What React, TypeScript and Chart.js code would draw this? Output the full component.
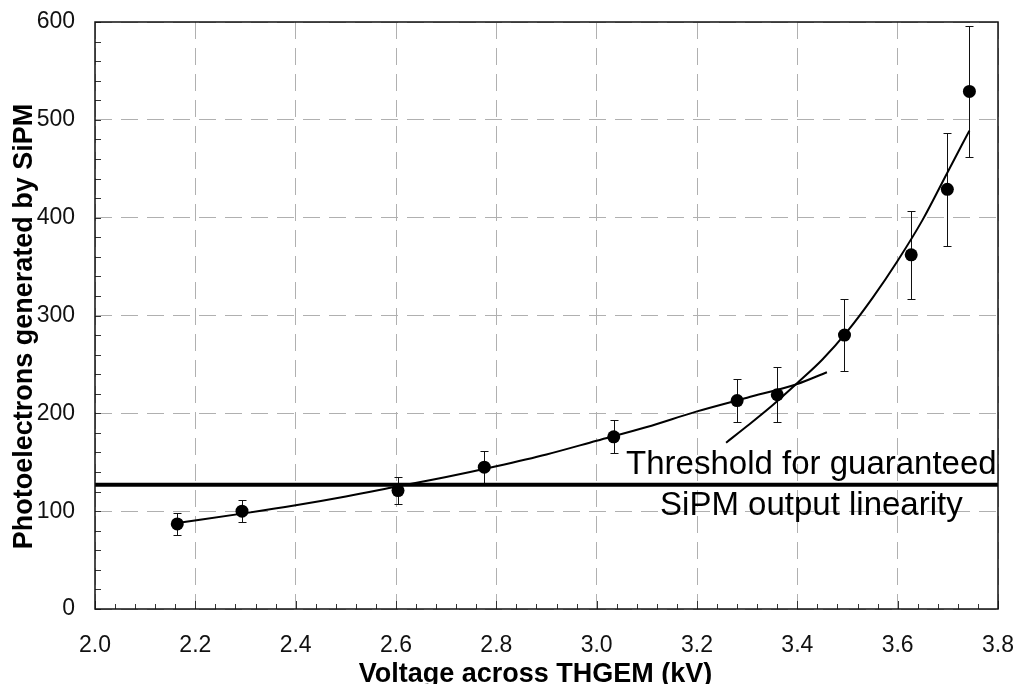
import React, { useEffect, useRef } from "react";
import { Chart, registerables } from "chart.js";

Chart.register(...registerables);

// ---- data ----
const voltage = [2.164, 2.293, 2.604, 2.776, 3.034, 3.28, 3.36, 3.494, 3.627, 3.699, 3.743];
const photoelectrons = [87, 100, 121, 145, 176, 213, 219, 280, 362, 429, 529];
const errors = [11, 11, 14, 17, 17, 22, 28, 37, 45, 58, 67];

const fitLowX = [2.164, 2.3, 2.4, 2.5, 2.6, 2.7, 2.8, 2.9, 3.0, 3.1, 3.2, 3.3, 3.4, 3.459];
const fitLowY = [88, 98, 106, 115, 125, 135, 146, 158, 172, 186, 202, 216, 230, 242];

const fitHighX = [3.258, 3.3, 3.35, 3.4, 3.45, 3.5, 3.55, 3.6, 3.65, 3.7, 3.743];
const fitHighY = [170, 187, 208, 231, 255, 284, 318, 356, 398, 447, 489];

const thresholdX = [2.0, 3.8];
const thresholdY = [127, 127];

const xTicksRange = [2.0, 3.8];
const yTicksRange = [0, 600];
const thresholdLabel = ["Threshold for guaranteed", "SiPM output linearity"];
const xTitle = "Voltage across THGEM (kV)";
const yTitle = "Photoelectrons generated by SiPM";

const FONT = "'Liberation Sans', Arial, sans-serif";

const toXY = (xs: number[], ys: number[]) => xs.map((x, i) => ({ x, y: ys[i] }));

const decorPlugin = {
  id: "decor",
  beforeDatasetsDraw(chart: any) {
    const { ctx } = chart;
    const xs = chart.scales.x;
    const ys = chart.scales.y;
    ctx.save();
    ctx.strokeStyle = "#111";
    ctx.lineWidth = 1;
    for (let i = 0; i < voltage.length; i++) {
      const px = Math.round(xs.getPixelForValue(voltage[i])) + 0.5;
      const top = Math.round(ys.getPixelForValue(photoelectrons[i] + errors[i])) + 0.5;
      const bot = Math.round(ys.getPixelForValue(photoelectrons[i] - errors[i])) + 0.5;
      ctx.beginPath();
      ctx.moveTo(px, top);
      ctx.lineTo(px, bot);
      ctx.moveTo(px - 4, top);
      ctx.lineTo(px + 4, top);
      ctx.moveTo(px - 4, bot);
      ctx.lineTo(px + 4, bot);
      ctx.stroke();
    }
    ctx.restore();
  },
  afterDraw(chart: any) {
    const { ctx, chartArea: a } = chart;
    const xs = chart.scales.x;
    const ys = chart.scales.y;
    ctx.save();
    // minor ticks
    ctx.strokeStyle = "#333";
    ctx.lineWidth = 1;
    ctx.beginPath();
    for (let v = yTicksRange[0]; v <= yTicksRange[1]; v += 20) {
      const py = Math.round(ys.getPixelForValue(v)) + 0.5;
      ctx.moveTo(a.left, py);
      ctx.lineTo(a.left + 6, py);
    }
    for (let k = 0; k <= 45; k++) {
      const v = xTicksRange[0] + k * 0.04;
      const px = Math.round(xs.getPixelForValue(v)) + 0.5;
      ctx.moveTo(px, a.bottom);
      ctx.lineTo(px, a.bottom - (k % 5 === 0 ? 8 : 5));
    }
    ctx.stroke();
    // frame
    ctx.strokeStyle = "#111";
    ctx.lineWidth = 1.5;
    ctx.strokeRect(a.left, a.top, a.right - a.left, a.bottom - a.top);

    // threshold annotation
    const ty = ys.getPixelForValue(thresholdY[0]);
    const tx = xs.getPixelForValue(3.428);
    ctx.fillStyle = "#000";
    ctx.font = `33px ${FONT}`;
    ctx.textAlign = "center";
    ctx.textBaseline = "alphabetic";
    ctx.fillText(thresholdLabel[0], tx, ty - 11);
    ctx.fillText(thresholdLabel[1], tx, ty + 30);

    // axis titles
    ctx.font = `bold 27px ${FONT}`;
    ctx.fillText(xTitle, (a.left + a.right) / 2 - 11, 682);
    ctx.translate(32, (a.top + a.bottom) / 2 + 11);
    ctx.rotate(-Math.PI / 2);
    ctx.fillText(yTitle, 0, 0);
    ctx.restore();
  },
};

export default function App() {
  const ref = useRef<HTMLCanvasElement | null>(null);

  useEffect(() => {
    document.body.style.margin = "0";
    const canvas = ref.current;
    if (!canvas) return;
    const chart = new Chart(canvas, {
      type: "scatter",
      data: {
        datasets: [
          {
            label: "threshold",
            data: toXY(thresholdX, thresholdY),
            showLine: true,
            borderColor: "#000",
            borderWidth: 4,
            pointRadius: 0,
          },
          {
            label: "fit low",
            data: toXY(fitLowX, fitLowY),
            showLine: true,
            borderColor: "#000",
            borderWidth: 2,
            pointRadius: 0,
            cubicInterpolationMode: "monotone",
          },
          {
            label: "fit high",
            data: toXY(fitHighX, fitHighY),
            showLine: true,
            borderColor: "#000",
            borderWidth: 2,
            pointRadius: 0,
            cubicInterpolationMode: "monotone",
          },
          {
            label: "data",
            data: toXY(voltage, photoelectrons),
            showLine: false,
            pointRadius: 6.5,
            pointBackgroundColor: "#000",
            pointBorderColor: "#000",
            pointBorderWidth: 0,
          },
        ],
      },
      options: {
        responsive: false,
        animation: false,
        events: [],
        layout: { padding: { top: 22, right: 18, left: 0, bottom: 0 } },
        plugins: {
          legend: { display: false },
          tooltip: { enabled: false },
        },
        scales: {
          x: {
            type: "linear",
            min: xTicksRange[0],
            max: xTicksRange[1],
            afterFit: (s: any) => {
              s.height = 75;
              s.paddingLeft = 0;
              s.paddingRight = 0;
            },
            ticks: {
              stepSize: 0.2,
              padding: 23,
              color: "#111",
              font: { family: FONT, size: 23 },
              callback: (v: any) => Number(v).toFixed(1),
            },
            grid: { color: "#b0b0b0", lineWidth: 1, drawTicks: false },
            border: { display: false, dash: [17, 9] },
          },
          y: {
            type: "linear",
            min: yTicksRange[0],
            max: yTicksRange[1],
            afterFit: (s: any) => {
              s.width = 95;
              s.paddingTop = 0;
              s.paddingBottom = 0;
            },
            ticks: {
              stepSize: 100,
              padding: 20,
              color: "#111",
              font: { family: FONT, size: 23 },
            },
            grid: { color: "#b0b0b0", lineWidth: 1, drawTicks: false },
            border: { display: false, dash: [17, 9] },
          },
        },
      },
      plugins: [decorPlugin],
    });
    return () => chart.destroy();
  }, []);

  return (
    <div style={{ width: 1016, height: 684, background: "#fff" }}>
      <canvas ref={ref} width={1016} height={684} />
    </div>
  );
}
